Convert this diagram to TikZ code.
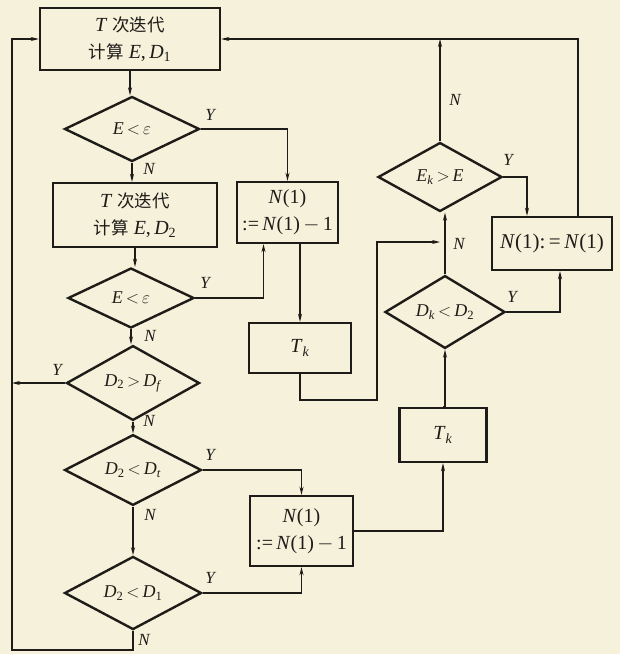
\documentclass[tikz,border=0pt]{standalone}
\usepackage{fontspec}
\setmainfont{Liberation Serif}
\newfontfamily\cjk{Noto Sans CJK SC}
\usetikzlibrary{shapes.geometric,arrows.meta}
\definecolor{paper}{RGB}{245,241,218}
\definecolor{ink}{RGB}{30,28,25}
\newcommand\vi[1]{\textit{#1}}
\newcommand\sbs[1]{\textsubscript{#1}}
\newcommand\cj[1]{{\cjk\fontsize{17.5}{27}\selectfont #1}}
\begin{document}
\begin{tikzpicture}[x=1pt,y=-1pt,
 box/.style={draw=ink,line width=2.4pt,rectangle,inner sep=0pt,align=center,font=\fontsize{20}{27}\selectfont,text=ink},
 dia/.style={draw=ink,line width=2.4pt,diamond,inner sep=0pt,font=\fontsize{18}{22}\selectfont,text=ink},
 arr/.style={draw=ink,line width=1.2pt,-{Stealth[length=8pt,width=4pt]}},
 lab/.style={font=\fontsize{17}{20}\selectfont\itshape,text=ink}]
\fill[paper] (0,0) rectangle (620,654);
\useasboundingbox (0,0) rectangle (620,654);
% boxes
\node[box,minimum width=180pt,minimum height=62pt] (b1) at (130,39) {\vi{T}\hspace{5pt}\cj{次迭代}\\\cj{计算}\hspace{5pt}\vi{E},\,\vi{D}\sbs{1}};
\node[box,minimum width=164pt,minimum height=64pt] (b2) at (135,215) {\vi{T}\hspace{5pt}\cj{次迭代}\\\cj{计算}\hspace{5pt}\vi{E},\,\vi{D}\sbs{2}};
\node[box,minimum width=101pt,minimum height=61pt] (n1) at (287.5,212.5) {\vi{N}(1)\\:=\,\vi{N}(1)\,$-$\,1};
\node[box,minimum width=102pt,minimum height=50pt] (tk1) at (300,348) {\vi{T}\sbs{\vi{k}}};
\node[box,minimum width=103pt,minimum height=70pt] (n2) at (301.5,531) {\vi{N}(1)\\:=\,\vi{N}(1)\,$-$\,1};
\node[box,minimum width=87pt,minimum height=54pt] (tk2) at (443,435) {\vi{T}\sbs{\vi{k}}};
\node[box,minimum width=120pt,minimum height=53pt,font=\fontsize{21}{26}\selectfont] (n3) at (552,243.5) {\vi{N}(1):\,=\,\vi{N}(1)};
% diamonds
\node[dia,minimum width=135pt,minimum height=65pt] (d1) at (132,129) {\vi{E}\,$<$\,$\varepsilon$};
\node[dia,minimum width=126pt,minimum height=60pt] (d2) at (131,298) {\vi{E}\,$<$\,$\varepsilon$};
\node[dia,minimum width=133pt,minimum height=61pt] (d3) at (133,383) {\vi{D}\sbs{2}\,$>$\,\vi{D}\sbs{\vi{f}}};
\node[dia,minimum width=137pt,minimum height=65pt] (d4) at (133,470) {\vi{D}\sbs{2}\,$<$\,\vi{D}\sbs{\vi{t}}};
\node[dia,minimum width=137pt,minimum height=70pt] (d5) at (133,593) {\vi{D}\sbs{2}\,$<$\,\vi{D}\sbs{1}};
\node[dia,minimum width=120pt,minimum height=65pt] (d6) at (445,312) {\vi{D}\sbs{\vi{k}}\,$<$\,\vi{D}\sbs{2}};
\node[dia,minimum width=124pt,minimum height=69pt] (d7) at (440,177) {\vi{E}\sbs{\vi{k}}\,$>$\,\vi{E}};
% coordinates
\coordinate (bl) at (12,650);
\coordinate (c1) at (377,400);
\coordinate (j1) at (d7.south |- 0,242);
% connectors
\draw[arr] (b1.south) -- (b1.south |- d1.north);
\draw[arr] (d1.east) -| (n1.north);
\draw[arr] (d1.south) -- (d1.south |- b2.north);
\draw[arr] (b2.south) -- (b2.south |- d2.north);
\draw[arr] (d2.east) -| ([xshift=-24pt]n1.south);
\draw[arr] (tk1.north |- n1.south) -- (tk1.north);
\draw[arr] (d2.south) -- (d2.south |- d3.north);
\draw[arr] (d3.south) -- (d3.south |- d4.north);
\draw[arr] (d4.south) -- (d4.south |- d5.north);
\draw[arr] (d3.west) -- (d3.west -| bl);
\draw[arr] (d5.south) |- (bl) |- (b1.west);
\draw[arr] (d4.east) -| (n2.north);
\draw[arr] (d5.east) -| (n2.south);
\draw[arr] (n2.east) -| (tk2.south);
\draw[arr] (tk2.north) -- (tk2.north -| d6.south) -- (d6.south);
\draw[arr] (tk1.south) |- (c1) |- (j1);
\draw[arr] (d6.north) -- (d6.north |- d7.south);
\draw[arr] (d6.east) -| ([xshift=8pt]n3.south);
\draw[arr] (d7.east) -| ([xshift=-25pt]n3.north);
\draw[arr] (d7.north) -- (d7.north |- b1.east);
\draw[arr] ([xshift=26pt]n3.north) |- (b1.east);
% labels
\node[lab] (y1) at (210,115) {Y};
\node[lab] (y2) at (205,283) {Y};
\node[lab] (y3) at (57,370) {Y};
\node[lab] (y4) at (210,455) {Y};
\node[lab] (y5) at (210,578) {Y};
\node[lab] (y6) at (512,297) {Y};
\node[lab] (y7) at (508,160) {Y};
\node[lab] (m1) at (149,169) {N};
\node[lab] (m2) at (150,336) {N};
\node[lab] (m3) at (149,421) {N};
\node[lab] (m4) at (150,515) {N};
\node[lab] (m5) at (144,640) {N};
\node[lab] (m6) at (459,244) {N};
\node[lab] (m7) at (455,100) {N};
\end{tikzpicture}
\end{document}
